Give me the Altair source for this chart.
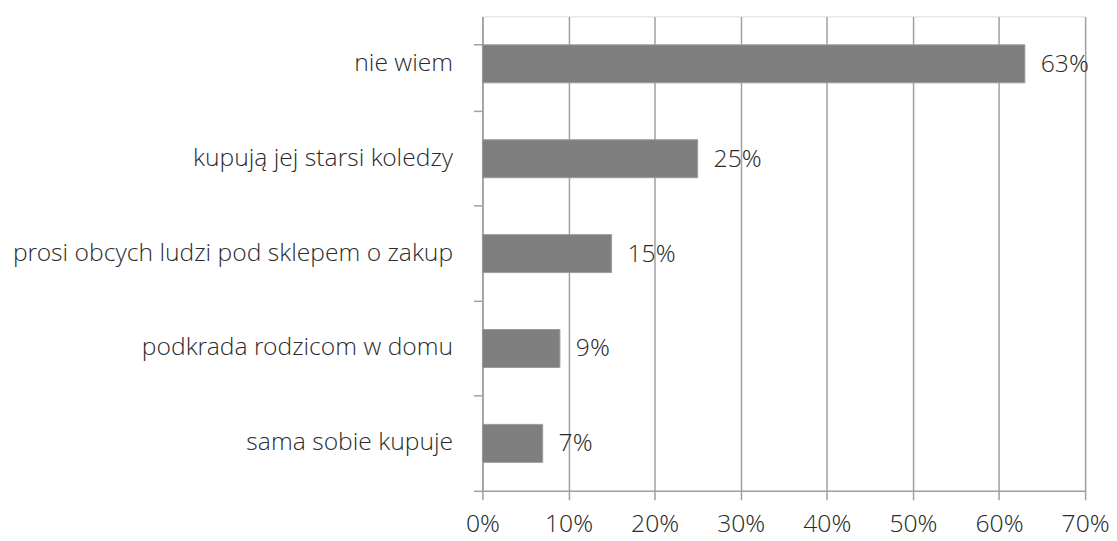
import altair as alt
import pandas as pd

categories = ["nie wiem", "kupują jej starsi koledzy", "prosi obcych ludzi pod sklepem o zakup",
              "podkrada rodzicom w domu", "sama sobie kupuje"]
values = [0.63, 0.25, 0.15, 0.09, 0.07]
labels = ["63%", "25%", "15%", "9%", "7%"]

df = pd.DataFrame({"cat": categories, "val": values, "lab": labels})

FONT = "'Open Sans Light', 'Open Sans'"
TEXT = "#2a2a2a"
GRID = "#a0a0a0"
FS = 24.8

y = alt.Y("cat:N", sort=categories, title=None,
          scale=alt.Scale(paddingInner=0.6, paddingOuter=0.3),
          axis=alt.Axis(bandPosition=1.75, tickExtra=True, domainColor=GRID, tickColor=GRID, tickSize=9,
                        labelPadding=21, labelFont=FONT, labelFontSize=FS, labelFontWeight=300,
                        labelColor=TEXT, labelLimit=0, domainWidth=1.5, tickWidth=1.5))
x = alt.X("val:Q", title=None,
          scale=alt.Scale(domain=[0, 0.7], nice=False),
          axis=alt.Axis(format=".0%", values=[0, 0.1, 0.2, 0.3, 0.4, 0.5, 0.6, 0.7],
                        grid=True, gridColor=GRID, gridWidth=1.5, domainColor=GRID, domainWidth=1.5,
                        tickColor=GRID, tickSize=9, tickWidth=1.5, labelPadding=12, labelFont=FONT,
                        labelFontSize=FS, labelFontWeight=300, labelColor=TEXT, labelFlush=False))

bars = alt.Chart(df).mark_bar(color="#7f7f7f", stroke="#9a9a9a", strokeWidth=1).encode(x=x, y=y)
text = alt.Chart(df).mark_text(align="left", baseline="middle", dx=16, dy=1, font=FONT,
                               fontSize=FS, fontWeight=300, color=TEXT).encode(
    x="val:Q", y=alt.Y("cat:N", sort=categories), text="lab:N")

chart = alt.layer(bars, text).properties(
    width=606, height=477, autosize="none",
    padding={"left": 477, "top": 7, "right": 24, "bottom": 48},
).configure_view(stroke=None).configure(background="white")

chart.save("out.html", embed_options={"renderer": "svg", "actions": False})
